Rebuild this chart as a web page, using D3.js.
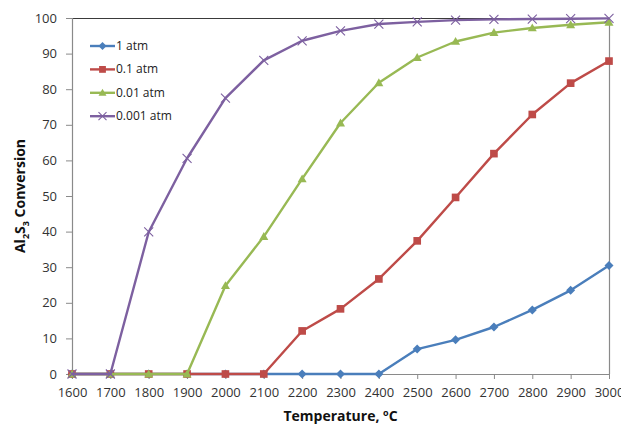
<!DOCTYPE html>
<html>
<head>
<meta charset="utf-8">
<script src="https://cdn.jsdelivr.net/npm/d3@7"></script>
<style>
  html, body { margin: 0; padding: 0; background: #fff; }
  svg { display: block; }
</style>
</head>
<body>
<svg id="chart" width="621" height="425"></svg>
<script>
// Temperature categories (°C)
const temperatures = [1600, 1700, 1800, 1900, 2000, 2100, 2200, 2300, 2400, 2500, 2600, 2700, 2800, 2900, 3000];

// Al2S3 conversion (%) at each pressure
const conv1atm    = [0, 0, 0, 0, 0, 0, 0, 0, 0, 7.0, 9.6, 13.2, 18.0, 23.5, 30.5];
const conv01atm   = [0, 0, 0, 0, 0, 0, 12.1, 18.3, 26.7, 37.4, 49.6, 61.9, 72.9, 81.7, 87.9];
const conv001atm  = [0, 0, 0, 0, 24.8, 38.6, 54.8, 70.5, 81.8, 88.9, 93.4, 95.9, 97.2, 98.1, 98.8];
const conv0001atm = [0, 0, 39.9, 60.6, 77.5, 88.1, 93.6, 96.4, 98.3, 98.9, 99.4, 99.6, 99.7, 99.8, 99.9];

const seriesNames = ["1 atm", "0.1 atm", "0.01 atm", "0.001 atm"];
const yTicks = [0, 10, 20, 30, 40, 50, 60, 70, 80, 90, 100];

const series = [
  { name: seriesNames[0], values: conv1atm,    color: "#4A7EBB", marker: "diamond" },
  { name: seriesNames[1], values: conv01atm,   color: "#BE4B48", marker: "square" },
  { name: seriesNames[2], values: conv001atm,  color: "#98B954", marker: "triangle" },
  { name: seriesNames[3], values: conv0001atm, color: "#7D60A0", marker: "cross" }
];

const svg = d3.select("#chart");
const font = "'Open Sans', 'DejaVu Sans', sans-serif";
const plot = { left: 72, right: 609, top: 18, bottom: 374 };

const x = d3.scalePoint().domain(temperatures).range([plot.left, plot.right]);
const y = d3.scaleLinear().domain([0, 100]).range([plot.bottom, plot.top]);

// Plot frame: top edge and right edge
svg.append("line").attr("x1", plot.left).attr("x2", plot.right)
  .attr("y1", plot.top + 0.5).attr("y2", plot.top + 0.5)
  .attr("stroke", "#3a3a3a").attr("stroke-width", 1);
svg.append("line").attr("x1", plot.right + 0.5).attr("x2", plot.right + 0.5)
  .attr("y1", plot.top).attr("y2", plot.bottom)
  .attr("stroke", "#8a8a8a").attr("stroke-width", 1.2);

// Y axis
const yAxis = svg.append("g")
  .attr("transform", `translate(${plot.left},0)`)
  .call(d3.axisLeft(y).tickValues(yTicks).tickSize(6).tickPadding(9));
yAxis.select(".domain").attr("stroke", "#8a8a8a").attr("stroke-width", 1.2);
yAxis.selectAll(".tick line").attr("stroke", "#8a8a8a");
yAxis.selectAll(".tick text").attr("font-family", font).attr("font-size", 13).attr("fill", "#333");

// X axis
const xAxis = svg.append("g")
  .attr("transform", `translate(0,${plot.bottom})`)
  .call(d3.axisBottom(x).tickSize(5).tickSizeOuter(0).tickPadding(9));
xAxis.select(".domain").attr("stroke", "#8a8a8a").attr("stroke-width", 1.2);
xAxis.selectAll(".tick line").attr("stroke", "#8a8a8a");
xAxis.selectAll(".tick text").attr("font-family", font).attr("font-size", 13).attr("fill", "#333");

// Axis titles
const xTitle = svg.append("text")
  .attr("x", (plot.left + plot.right) / 2).attr("y", 421)
  .attr("text-anchor", "middle")
  .attr("font-family", font).attr("font-size", 14).attr("font-weight", "bold").attr("fill", "#111");
xTitle.append("tspan").text("Temperature, ");
xTitle.append("tspan").attr("font-size", 9).attr("dy", -5).text("o");
xTitle.append("tspan").attr("dy", 5).text("C");

const yTitle = svg.append("text")
  .attr("transform", `translate(25,${(plot.top + plot.bottom) / 2}) rotate(-90)`)
  .attr("text-anchor", "middle")
  .attr("font-family", font).attr("font-size", 14).attr("font-weight", "bold").attr("fill", "#111");
yTitle.append("tspan").text("Al");
yTitle.append("tspan").attr("font-size", 9).attr("dy", 4).text("2");
yTitle.append("tspan").attr("dy", -4).text("S");
yTitle.append("tspan").attr("font-size", 9).attr("dy", 4).text("3");
yTitle.append("tspan").attr("dy", -4).text(" Conversion");

// Marker drawing
function drawMarker(g, type, color, cx, cy, s) {
  if (type === "diamond") {
    g.append("path").attr("d", `M${cx},${cy - s}L${cx + s},${cy}L${cx},${cy + s}L${cx - s},${cy}Z`).attr("fill", color);
  } else if (type === "square") {
    g.append("rect").attr("x", cx - s * 0.85).attr("y", cy - s * 0.85)
      .attr("width", s * 1.7).attr("height", s * 1.7).attr("fill", color);
  } else if (type === "triangle") {
    g.append("path").attr("d", `M${cx},${cy - s}L${cx + s},${cy + s * 0.75}L${cx - s},${cy + s * 0.75}Z`).attr("fill", color);
  } else {
    const r = s;
    g.append("path").attr("d", `M${cx - r},${cy - r}L${cx + r},${cy + r}M${cx - r},${cy + r}L${cx + r},${cy - r}`)
      .attr("stroke", color).attr("stroke-width", 1.1).attr("fill", "none");
  }
}

const line = d3.line().x((d, i) => x(temperatures[i])).y(d => y(d));

series.forEach(s => {
  const g = svg.append("g");
  g.append("path").datum(s.values).attr("d", line)
    .attr("fill", "none").attr("stroke", s.color).attr("stroke-width", 2.4)
    .attr("stroke-linejoin", "round");
  s.values.forEach((v, i) => drawMarker(g, s.marker, s.color, x(temperatures[i]), y(v), 4.5));
});

// Legend
const legend = svg.append("g");
series.forEach((s, i) => {
  const ly = 46 + i * 23.4;
  legend.append("line").attr("x1", 90).attr("x2", 115).attr("y1", ly).attr("y2", ly)
    .attr("stroke", s.color).attr("stroke-width", 2.4);
  drawMarker(legend, s.marker, s.color, 102.5, ly, 4);
  legend.append("text").attr("x", 116).attr("y", ly + 4)
    .attr("font-family", font).attr("font-size", 12).attr("fill", "#222").text(s.name);
});
</script>
</body>
</html>
